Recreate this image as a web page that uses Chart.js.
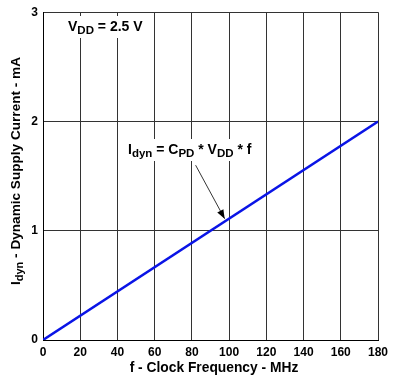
<!DOCTYPE html>
<html>
<head>
<meta charset="utf-8">
<script src="https://cdn.jsdelivr.net/npm/chart.js@4/dist/chart.umd.min.js"></script>
<style>
  html, body { margin: 0; padding: 0; background: #fff; }
  #wrap { width: 398px; height: 377px; }
</style>
</head>
<body>
<div id="wrap"><canvas id="idynChart" width="398" height="377"></canvas></div>
<script>
// clock frequency (MHz) and dynamic supply current (mA)
const freqMHz = [0, 180];
const currentMA = [0, 2];
const xTickStep = 20;
const yTickStep = 1;
const xMax = 180;
const yMax = 3;

const FONT = 'Arial, "Liberation Sans", sans-serif';

// draws text made of [text, isSubscript] parts
function drawRich(ctx, parts, x, y, align, size, subSize, bg) {
    const mainFont = 'bold ' + size + 'px ' + FONT;
    const subFont = 'bold ' + subSize + 'px ' + FONT;
    let w = 0;
    parts.forEach(p => {
        ctx.font = p[1] ? subFont : mainFont;
        w += ctx.measureText(p[0]).width;
    });
    let cx = align === 'center' ? x - w / 2 : x;
    if (bg) {
        ctx.fillStyle = '#fff';
        ctx.fillRect(cx - 4, y - size - 1, w + 8, size + 8);
    }
    ctx.fillStyle = '#000';
    ctx.textBaseline = 'alphabetic';
    ctx.textAlign = 'left';
    parts.forEach(p => {
        ctx.font = p[1] ? subFont : mainFont;
        ctx.fillText(p[0], cx, p[1] ? y + 3 : y);
        cx += ctx.measureText(p[0]).width;
    });
}

const labelsPlugin = {
    id: 'labelsPlugin',
    afterDraw(chart) {
        const ctx = chart.ctx;
        const xs = chart.scales.x;
        const ys = chart.scales.y;
        ctx.save();

        // axis titles
        drawRich(ctx, [['f - Clock Frequency - MHz', false]], 214, 372, 'center', 13.8, 11);
        ctx.save();
        ctx.translate(20, 171);
        ctx.rotate(-Math.PI / 2);
        drawRich(ctx, [['I', false], ['dyn', true], [' - Dynamic Supply Current - mA', false]], 0, 0, 'center', 13.6, 11);
        ctx.restore();

        // VDD note
        drawRich(ctx, [['V', false], ['DD', true], [' = 2.5 V', false]], 68, 31, 'left', 14, 11.5, true);

        // formula note
        drawRich(ctx, [['I', false], ['dyn', true], [' = C', false], ['PD', true], [' * V', false], ['DD', true], [' * f', false]], 128, 154, 'left', 14, 11.5, true);

        // arrow to the line
        const x0 = xs.getPixelForValue(82), y0 = ys.getPixelForValue(1.6);
        const x1 = xs.getPixelForValue(97.6), y1 = ys.getPixelForValue(1.11);
        ctx.strokeStyle = '#000';
        ctx.lineWidth = 0.8;
        ctx.beginPath();
        ctx.moveTo(x0, y0);
        ctx.lineTo(x1, y1);
        ctx.stroke();
        const ang = Math.atan2(y1 - y0, x1 - x0);
        const len = 9, half = 3.5;
        ctx.fillStyle = '#000';
        ctx.beginPath();
        ctx.moveTo(x1, y1);
        ctx.lineTo(x1 - len * Math.cos(ang) + half * Math.sin(ang), y1 - len * Math.sin(ang) - half * Math.cos(ang));
        ctx.lineTo(x1 - len * Math.cos(ang) - half * Math.sin(ang), y1 - len * Math.sin(ang) + half * Math.cos(ang));
        ctx.closePath();
        ctx.fill();

        ctx.restore();
    }
};

const ctx = document.getElementById('idynChart').getContext('2d');
new Chart(ctx, {
    type: 'line',
    data: {
        datasets: [{
            data: freqMHz.map((f, i) => ({ x: f, y: currentMA[i] })),
            borderColor: '#0a14e6',
            borderWidth: 2.5,
            pointRadius: 0,
            fill: false,
            tension: 0
        }]
    },
    options: {
        responsive: false,
        animation: false,
        layout: { padding: { top: 7, right: 20, left: 0, bottom: 0 } },
        plugins: { legend: { display: false }, tooltip: { enabled: false } },
        scales: {
            x: {
                type: 'linear',
                min: 0,
                max: xMax,
                afterFit: function (scale) { scale.height = 37; },
                ticks: { stepSize: xTickStep, padding: 5, color: '#000', font: { family: FONT, size: 12, weight: 'bold' }, maxRotation: 0 },
                grid: { color: '#333', lineWidth: 1, drawTicks: false },
                border: { color: '#000', width: 1 }
            },
            y: {
                min: 0,
                max: yMax,
                afterFit: function (scale) { scale.width = 43; },
                ticks: { stepSize: yTickStep, padding: 5, color: '#000', font: { family: FONT, size: 12, weight: 'bold' } },
                grid: { color: '#333', lineWidth: 1, drawTicks: false },
                border: { color: '#000', width: 1 }
            }
        }
    },
    plugins: [labelsPlugin]
});
</script>
</body>
</html>
